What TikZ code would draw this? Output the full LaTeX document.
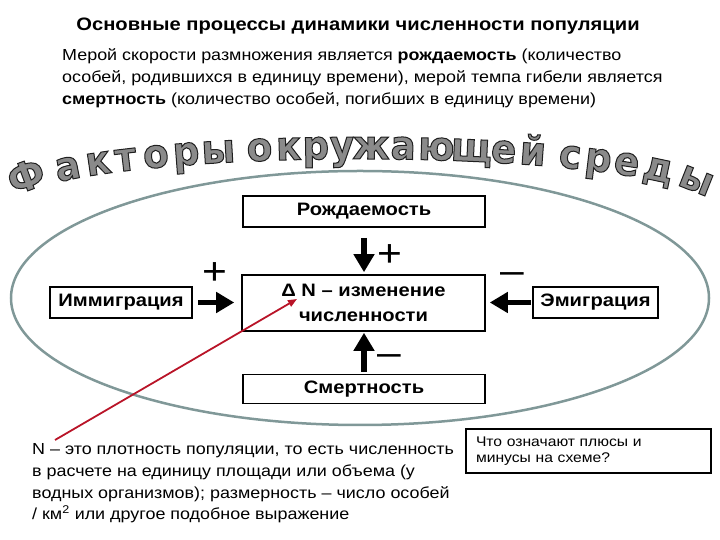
\documentclass[tikz,border=0pt]{standalone}
\usepackage{fontspec}
\setmainfont{Liberation Sans}[FakeStretch=1.12]
\newfontfamily\wordart{DejaVu Sans}[FakeStretch=0.93]
\usetikzlibrary{arrows.meta}
\definecolor{ellcol}{RGB}{128,152,152}
\definecolor{wagray}{RGB}{138,138,138}
\definecolor{redarrow}{RGB}{185,20,40}
\newcommand\olc[1]{\special{pdf:literal direct 2 Tr 1 w 0.12 0.12 0.12 RG}#1\special{pdf:literal direct 0 Tr}}
\begin{document}
\begin{tikzpicture}[x=1pt,y=1pt,
  box/.style={draw, line width=1.6pt, inner sep=0pt, font=\bfseries\fontsize{18}{25}\selectfont},
  bigarrow/.style={line width=5.5pt, -{Triangle[length=18pt,width=20pt]}},
  sign/.style={font=\fontsize{38}{40}\selectfont, anchor=base, inner sep=0pt},
  para/.style={font=\fontsize{16}{22}\selectfont, anchor=base west, inner sep=0pt},
  wa/.style={font=\wordart\bfseries\fontsize{40}{42}\selectfont, text=wagray, anchor=base, inner sep=0pt}]
\useasboundingbox (0,0) rectangle (720,540);

% title and paragraph
\node[font=\bfseries\fontsize{18}{21}\selectfont, anchor=base, inner sep=0pt] (title) at (358,509) {Основные процессы динамики численности популяции};
\node[para] (p1) at (62,479) {Мерой скорости размножения является \textbf{рождаемость} (количество};
\node[para] (p2) at (62,457) {особей, родившихся в единицу времени), мерой темпа гибели является};
\node[para] (p3) at (62,435) {\textbf{смертность} (количество особей, погибших в единицу времени)};

% ellipse
\draw[ellcol, line width=2.5pt] (360,242) ellipse [x radius=349, y radius=127];

% arched word-art text
\foreach \ch/\xx [count=\i] in {Ф/31, а/70, к/100, т/127, о/157, р/187, ы/219,
   о/260, к/289, р/316, у/342, ж/371, а/403, ю/436, щ/471, е/503, й/532,
   с/569, р/597, е/625, д/656, ы/692}{
  \pgfmathsetmacro\tt{acos((\xx-360)/350)}
  \pgfmathsetmacro\yy{334.4+46.6*sin(\tt)}
  \pgfmathsetmacro\rr{atan2(-46.6*cos(\tt),350*sin(\tt))}
  \node[wa, rotate=\rr] (wa\i) at (\xx,\yy) {\olc{\ch}};
}

% boxes
\node[box, minimum width=242, minimum height=31] (rozh) at (364,328.5) {Рождаемость};
\node[box, minimum width=243, minimum height=56, align=center] (dn) at (363.5,237) {Δ N – изменение\\численности};
\node[box, minimum width=242, minimum height=29] (smert) at (364,151) {Смертность};
\node[box, minimum width=142, minimum height=31] (immig) at (121,237.5) {Иммиграция};
\node[box, minimum width=125, minimum height=31] (emig) at (595.5,237.5) {Эмиграция};

% arrows
\draw[bigarrow, shorten <=10pt, shorten >=2pt] (rozh.south) -- (rozh.south |- dn.north);
\draw[bigarrow, shorten <=2pt, shorten >=1pt] (smert.north) -- (smert.north |- dn.south);
\draw[bigarrow, shorten <=5pt, shorten >=7pt] (immig.east) -- (immig.east -| dn.west);
\draw[bigarrow, shorten <=1pt, shorten >=4pt] (emig.west) -- (emig.west -| dn.east);

% signs
\node[sign] (s1) at (390,273.5) {+};
\node[sign] (s2) at (215,255.5) {+};
\node[sign] (s3) at (512,256.5) {–};
\node[sign] (s4) at (389,174.5) {–};

% bottom text
\node[para] (b1) at (32,85) {N – это плотность популяции, то есть численность};
\node[para] (b2) at (32,63) {в расчете на единицу площади или объема (у};
\node[para] (b3) at (32,41.5) {водных организмов); размерность – число особей};
\node[para] (b4) at (32,20) {/ км\textsuperscript{2} или другое подобное выражение};

% question box
\node[draw, line width=2pt, minimum width=245, minimum height=44, text width=225, align=left, inner sep=0pt,
      font=\fontsize{14}{16.5}\selectfont] (q) at (588.5,89) {Что означают плюсы и\\минусы на схеме?};

% red pointer
\coordinate (rs) at (55,100);
\coordinate (rt) at (297,241);
\draw[redarrow, line width=1.8pt, -{Triangle[length=9pt,width=7pt]}] (rs) -- (rt);
\end{tikzpicture}
\end{document}
